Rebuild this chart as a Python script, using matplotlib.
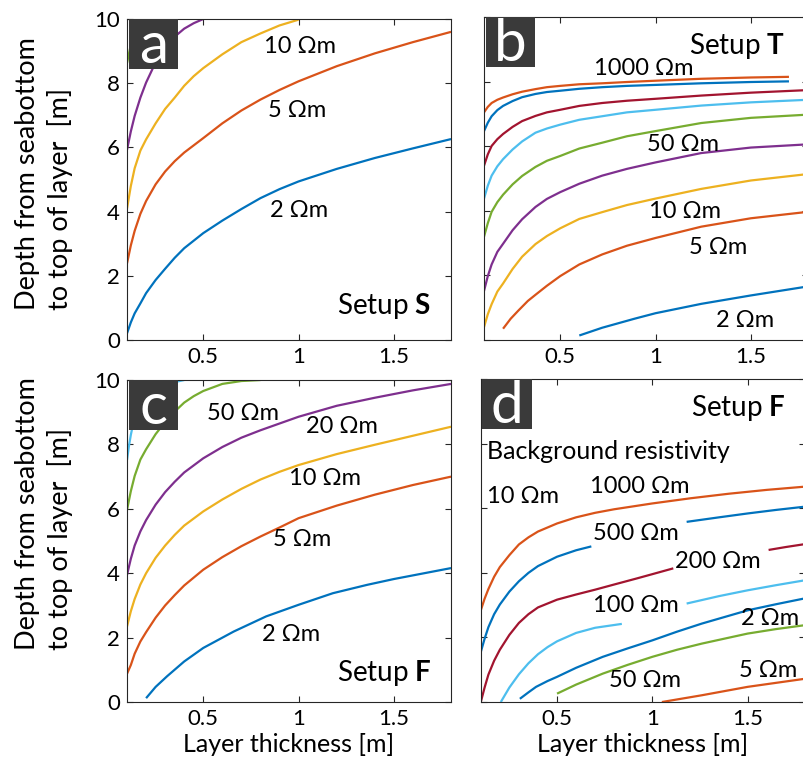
import numpy as np
import matplotlib.pyplot as plt
from matplotlib.patches import Rectangle

plt.rcParams['font.family'] = ['Lato', 'DejaVu Sans']
plt.rcParams['mathtext.fontset'] = 'custom'
plt.rcParams['mathtext.rm'] = 'Lato'
plt.rcParams['mathtext.bf'] = 'Lato:bold'

BLUE = '#0072BD'
ORANGE = '#D95319'
YELLOW = '#EDB120'
PURPLE = '#7E2F8E'
GREEN = '#77AC30'
LBLUE = '#4DBEEE'
DRED = '#A2142F'
nan = np.nan

# ---- panel a, setup S ----
a_2_x = [0.10, 0.12, 0.14, 0.17, 0.20, 0.25, 0.30, 0.35, 0.40, 0.50, 0.60, 0.70, 0.80, 0.90, 1.00, 1.20, 1.40, 1.60, 1.80]
a_2_y = [0.21, 0.55, 0.83, 1.14, 1.46, 1.87, 2.22, 2.56, 2.86, 3.33, 3.72, 4.08, 4.42, 4.70, 4.94, 5.33, 5.67, 5.97, 6.26]
a_5_x = [0.10, 0.12, 0.14, 0.17, 0.20, 0.25, 0.30, 0.35, 0.40, 0.50, 0.60, 0.70, 0.80, 0.90, 1.00, 1.20, 1.40, 1.60, 1.80]
a_5_y = [2.39, 2.95, 3.40, 3.93, 4.33, 4.85, 5.25, 5.57, 5.84, 6.29, 6.75, 7.15, 7.49, 7.79, 8.06, 8.53, 8.93, 9.28, 9.60]
a_10_x = [0.10, 0.12, 0.14, 0.17, 0.20, 0.25, 0.30, 0.35, 0.40, 0.45, 0.50, 0.60, 0.70, 0.80, 0.90, 1.00]
a_10_y = [4.10, 4.80, 5.35, 5.90, 6.25, 6.75, 7.20, 7.55, 7.92, 8.22, 8.47, 8.90, 9.28, 9.55, 9.80, 9.98]
a_20_x = [0.10, 0.12, 0.14, 0.17, 0.20, 0.25, 0.30, 0.35, 0.40, 0.45, 0.50]
a_20_y = [5.93, 6.50, 6.98, 7.55, 8.02, 8.65, 9.12, 9.45, 9.70, 9.87, 10.0]
a_50_x = [0.10, 0.12, 0.14, 0.16, 0.17]
a_50_y = [8.63, 9.20, 9.60, 9.90, 10.0]

# ---- panel b, setup T ----
b_x = [0.10, 0.12, 0.14, 0.17, 0.20, 0.25, 0.30, 0.37, 0.43, 0.50, 0.60, 0.72, 0.85, 1.00, 1.24, 1.50, 1.80]
b_1000_x = [0.10, 0.12, 0.14, 0.17, 0.20, 0.25, 0.30, 0.37, 0.43, 0.50, 0.60, 0.72, 0.85, 1.00, 1.24, 1.50, 1.70]
b_1000_y = [7.05, 7.22, 7.34, 7.44, 7.51, 7.61, 7.69, 7.77, 7.83, 7.87, 7.92, 7.95, 7.99, 8.03, 8.09, 8.13, 8.15]
b_500_x = b_1000_x
b_500_y = [6.47, 6.73, 6.93, 7.12, 7.25, 7.40, 7.52, 7.62, 7.68, 7.72, 7.78, 7.83, 7.87, 7.90, 7.95, 7.99, 8.01]
b_200_y = [5.40, 5.75, 6.01, 6.22, 6.38, 6.60, 6.78, 6.94, 7.05, 7.13, 7.25, 7.34, 7.41, 7.47, 7.57, 7.66, 7.74]
b_100_y = [4.38, 4.78, 5.09, 5.38, 5.60, 5.90, 6.15, 6.42, 6.55, 6.67, 6.82, 6.93, 7.05, 7.13, 7.26, 7.36, 7.44]
b_50_y = [3.20, 3.62, 3.97, 4.27, 4.50, 4.82, 5.08, 5.36, 5.55, 5.70, 5.93, 6.11, 6.31, 6.47, 6.72, 6.88, 6.98]
b_20_y = [1.52, 1.98, 2.34, 2.73, 2.98, 3.40, 3.74, 4.12, 4.37, 4.58, 4.84, 5.09, 5.30, 5.50, 5.79, 5.96, 6.06]
b_10_y = [0.40, 0.80, 1.11, 1.50, 1.75, 2.20, 2.58, 2.97, 3.22, 3.46, 3.75, 3.96, 4.18, 4.38, 4.68, 4.94, 5.14]
b_5_x = [0.20, 0.24, 0.28, 0.33, 0.37, 0.43, 0.50, 0.60, 0.72, 0.85, 1.00, 1.24, 1.50, 1.80]
b_5_y = [0.35, 0.66, 0.91, 1.21, 1.40, 1.68, 1.98, 2.34, 2.65, 2.92, 3.16, 3.51, 3.77, 3.97]
b_2_x = [0.60, 0.72, 0.89, 1.00, 1.24, 1.50, 1.80]
b_2_y = [0.14, 0.38, 0.66, 0.83, 1.12, 1.38, 1.66]

# ---- panel c, setup F ----
c_x = [0.10, 0.12, 0.14, 0.17, 0.20, 0.25, 0.30, 0.35, 0.40, 0.50, 0.60, 0.70, 0.80, 0.90, 1.00, 1.20, 1.40, 1.60, 1.80]
c_2_x = [0.20, 0.25, 0.31, 0.40, 0.50, 0.66, 0.83, 1.00, 1.18, 1.36, 1.50, 1.80]
c_2_y = [0.12, 0.47, 0.80, 1.26, 1.68, 2.19, 2.66, 3.02, 3.38, 3.64, 3.82, 4.16]
c_5_y = [0.88, 1.15, 1.50, 1.88, 2.17, 2.62, 3.00, 3.32, 3.62, 4.11, 4.50, 4.84, 5.14, 5.42, 5.71, 6.10, 6.44, 6.74, 7.00]
c_10_y = [2.35, 2.82, 3.20, 3.65, 4.00, 4.48, 4.86, 5.19, 5.48, 5.92, 6.29, 6.62, 6.91, 7.15, 7.36, 7.70, 7.99, 8.27, 8.55]
c_20_y = [3.95, 4.45, 4.86, 5.30, 5.65, 6.13, 6.52, 6.84, 7.13, 7.57, 7.92, 8.21, 8.44, 8.65, 8.86, 9.20, 9.45, 9.68, 9.88]
c_50_x = [0.10, 0.12, 0.14, 0.17, 0.20, 0.25, 0.30, 0.35, 0.40, 0.45, 0.50, 0.60, 0.70, 0.80]
c_50_y = [5.97, 6.55, 7.02, 7.53, 7.85, 8.32, 8.70, 9.02, 9.30, 9.50, 9.66, 9.88, 9.97, 10.0]
c_100_x = [0.10, 0.11, 0.12, 0.13, 0.15, 0.20, 0.25, 0.30, 0.36, 0.40]
c_100_y = [7.52, 7.95, 8.30, 8.58, 8.98, 9.50, 9.75, 9.88, 9.95, 10.0]

# ---- panel d, setup F, background 10 Ohm m (gaps where the labels sit) ----
d_1000_x = [0.10, 0.12, 0.14, 0.17, 0.20, 0.25, 0.30, 0.35, 0.40, 0.50, 0.60, 0.70, 0.80, 1.00, 1.20, 1.40, 1.60, 1.80]
d_1000_y = [2.84, 3.20, 3.50, 3.88, 4.18, 4.55, 4.88, 5.10, 5.28, 5.53, 5.72, 5.86, 5.97, 6.15, 6.31, 6.45, 6.57, 6.67]
d_500_x = [0.10, 0.12, 0.14, 0.17, 0.20, 0.25, 0.30, 0.35, 0.40, 0.50, 0.60, 0.68, nan, 1.18, 1.35, 1.50, 1.65, 1.80]
d_500_y = [1.55, 1.96, 2.32, 2.72, 3.02, 3.42, 3.74, 4.00, 4.21, 4.50, 4.70, 4.82, nan, 5.58, 5.72, 5.84, 5.95, 6.05]
d_200_x = [0.10, 0.12, 0.14, 0.17, 0.20, 0.25, 0.30, 0.35, 0.40, 0.50, 0.60, 0.70, 0.80, 0.92, 1.00, 1.11, nan, 1.61, 1.70, 1.80]
d_200_y = [0.00, 0.45, 0.85, 1.28, 1.62, 2.08, 2.45, 2.72, 2.93, 3.17, 3.33, 3.48, 3.64, 3.83, 3.96, 4.14, nan, 4.71, 4.80, 4.89]
d_100_x = [0.205, 0.25, 0.30, 0.35, 0.40, 0.45, 0.50, 0.60, 0.70, 0.84, nan, 1.18, 1.35, 1.50, 1.65, 1.80]
d_100_y = [0.00, 0.45, 0.86, 1.20, 1.48, 1.70, 1.88, 2.14, 2.30, 2.42, nan, 3.05, 3.28, 3.46, 3.62, 3.77]
d_2_x = [0.305, 0.35, 0.39, 0.45, 0.50, 0.60, 0.74, 0.87, 1.00, 1.13, 1.26, 1.50, 1.65, 1.80]
d_2_y = [0.10, 0.30, 0.47, 0.65, 0.78, 1.06, 1.40, 1.66, 1.91, 2.18, 2.43, 2.84, 3.03, 3.21]
d_50_x = [0.50, 0.60, 0.74, 0.87, 1.00, 1.13, 1.26, 1.50, 1.65, 1.80]
d_50_y = [0.26, 0.54, 0.88, 1.15, 1.40, 1.62, 1.81, 2.12, 2.26, 2.38]
d_5_x = [1.05, 1.26, 1.50, 1.80]
d_5_y = [0.00, 0.21, 0.47, 0.72]

xticks = [0.5, 1, 1.5]
xticklabels = ['0.5', '1', '1.5']
yticks = [0, 2, 4, 6, 8, 10]

fig = plt.figure(figsize=(8.04, 7.67), dpi=100)
ax_a = fig.add_axes([0.158, 0.5567, 0.403, 0.4185])
ax_b = fig.add_axes([0.602, 0.5567, 0.403, 0.421])
ax_c = fig.add_axes([0.158, 0.0847, 0.403, 0.4198])
ax_d = fig.add_axes([0.598, 0.0847, 0.403, 0.421])

def curve(ax, x, y, c):
    ax.plot(x, y, color=c, lw=1.6, solid_capstyle='butt', solid_joinstyle='round')

def setup_axes(ax, letter, ylabels):
    ax.set_xlim(0.1, 1.8)
    ax.set_ylim(0, 10)
    ax.set_xticks(xticks)
    ax.set_xticklabels(xticklabels)
    ax.set_yticks(yticks)
    if not ylabels:
        ax.set_yticklabels([])
    ax.tick_params(direction='in', top=True, right=True, length=4, width=0.8,
                   labelsize=16, pad=5, color='#262626')
    for s in ax.spines.values():
        s.set_color('#262626')
        s.set_linewidth(0.8)
    ax.add_patch(Rectangle((0.005, 0.845), 0.152, 0.155, transform=ax.transAxes,
                           facecolor='#3a3a3a', edgecolor='none', zorder=5))
    ax.text(0.081, 0.915, letter, transform=ax.transAxes, color='white',
            fontsize=42, ha='center', va='center', zorder=6)

def lab(ax, x, y, s, size=17, **kw):
    kw.setdefault('ha', 'center')
    ax.text(x, y, s, fontsize=size, va='center', zorder=4, **kw)

# panel a
curve(ax_a, a_2_x, a_2_y, BLUE)
curve(ax_a, a_5_x, a_5_y, ORANGE)
curve(ax_a, a_10_x, a_10_y, YELLOW)
curve(ax_a, a_20_x, a_20_y, PURPLE)
curve(ax_a, a_50_x, a_50_y, GREEN)
setup_axes(ax_a, 'a', True)
lab(ax_a, 1.007, 9.15, '10 Ωm')
lab(ax_a, 0.995, 7.14, '5 Ωm')
lab(ax_a, 1.003, 4.05, '2 Ωm')
lab(ax_a, 1.45, 1.06, 'Setup $\\mathbf{S}$', size=20)

# panel b
curve(ax_b, b_1000_x, b_1000_y, ORANGE)
curve(ax_b, b_500_x, b_500_y, BLUE)
curve(ax_b, b_x, b_200_y, DRED)
curve(ax_b, b_x, b_100_y, LBLUE)
curve(ax_b, b_x, b_50_y, GREEN)
curve(ax_b, b_x, b_20_y, PURPLE)
curve(ax_b, b_x, b_10_y, YELLOW)
curve(ax_b, b_5_x, b_5_y, ORANGE)
curve(ax_b, b_2_x, b_2_y, BLUE)
setup_axes(ax_b, 'b', False)
lab(ax_b, 1.43, 9.12, 'Setup $\\mathbf{T}$', size=20)
lab(ax_b, 0.94, 8.41, '1000 Ωm')
lab(ax_b, 1.146, 6.06, '50 Ωm')
lab(ax_b, 1.155, 3.97, '10 Ωm')
lab(ax_b, 1.33, 2.85, '5 Ωm')
lab(ax_b, 1.47, 0.59, '2 Ωm')

# panel c
curve(ax_c, c_2_x, c_2_y, BLUE)
curve(ax_c, c_x, c_5_y, ORANGE)
curve(ax_c, c_x, c_10_y, YELLOW)
curve(ax_c, c_x, c_20_y, PURPLE)
curve(ax_c, c_50_x, c_50_y, GREEN)
curve(ax_c, c_100_x, c_100_y, LBLUE)
setup_axes(ax_c, 'c', True)
lab(ax_c, 0.71, 8.97, '50 Ωm')
lab(ax_c, 1.226, 8.55, '20 Ωm')
lab(ax_c, 1.14, 6.95, '10 Ωm')
lab(ax_c, 1.02, 5.04, '5 Ωm')
lab(ax_c, 0.963, 2.09, '2 Ωm')
lab(ax_c, 1.45, 0.90, 'Setup $\\mathbf{F}$', size=20)
ax_c.set_xlabel('Layer thickness [m]', fontsize=18, labelpad=3)

# panel d
curve(ax_d, d_1000_x, d_1000_y, ORANGE)
curve(ax_d, d_500_x, d_500_y, BLUE)
curve(ax_d, d_200_x, d_200_y, DRED)
curve(ax_d, d_100_x, d_100_y, LBLUE)
curve(ax_d, d_2_x, d_2_y, BLUE)
curve(ax_d, d_50_x, d_50_y, GREEN)
curve(ax_d, d_5_x, d_5_y, ORANGE)
setup_axes(ax_d, 'd', False)
lab(ax_d, 1.45, 9.10, 'Setup $\\mathbf{F}$', size=20)
lab(ax_d, 0.134, 7.76, 'Background resistivity', ha='left', size=18)
lab(ax_d, 0.134, 6.36, '10 Ωm', ha='left')
lab(ax_d, 0.936, 6.67, '1000 Ωm')
lab(ax_d, 0.915, 5.22, '500 Ωm')
lab(ax_d, 1.343, 4.34, '200 Ωm')
lab(ax_d, 0.915, 3.00, '100 Ωm')
lab(ax_d, 1.62, 2.59, '2 Ωm')
lab(ax_d, 0.96, 0.67, '50 Ωm')
lab(ax_d, 1.605, 0.98, '5 Ωm')
ax_d.set_xlabel('Layer thickness [m]', fontsize=18, labelpad=3)

ylab = 'Depth from seabottom\nto top of layer  [m]'
fig.text(44 / 804, 1 - 310 / 767, ylab, rotation=90, ha='center', va='bottom',
         multialignment='left', fontsize=19.5, linespacing=1.35)
fig.text(44 / 804, 1 - 650 / 767, ylab, rotation=90, ha='center', va='bottom',
         multialignment='left', fontsize=19.5, linespacing=1.35)

fig.savefig('out.png', dpi=100)
